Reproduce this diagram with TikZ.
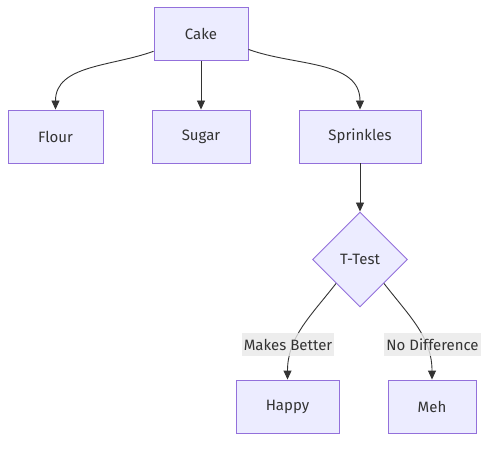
\documentclass[tikz,border=0pt]{standalone}
\usepackage{fontspec}
\setmainfont{Fira Sans}
\usepackage{tikz}
\usepackage{xcolor}
\usetikzlibrary{arrows.meta, shapes.geometric, positioning}
\definecolor{boxFill}{HTML}{ECECFF}
\definecolor{boxLine}{HTML}{9370DB}
\definecolor{edgeLine}{HTML}{333333}
\definecolor{lblFill}{HTML}{E8E8E8}
\tikzstyle{box} = [draw=boxLine, fill=boxFill, line width=0.9pt, rectangle,
   inner xsep=0pt, minimum height=53pt, text=edgeLine,
   font=\fontsize{15}{18}\selectfont]
\tikzstyle{decide} = [draw=boxLine, fill=boxFill, line width=0.9pt, diamond,
   aspect=1, inner sep=0pt, minimum width=95pt, minimum height=95pt,
   text=edgeLine, font=\fontsize{15}{18}\selectfont]
\tikzstyle{edge} = [draw=edgeLine, line width=0.9pt,
   -{Triangle[length=9pt,width=8pt]}]
\tikzstyle{edgeLabel} = [fill=lblFill, fill opacity=0.8, text opacity=1,
   text=edgeLine, inner xsep=2pt, inner ysep=0pt, minimum height=23pt,
   font=\fontsize{15}{18}\selectfont]

\begin{document}
\begin{tikzpicture}[x=1pt, y=1pt]
  \useasboundingbox (0,0) rectangle (497,-449);
  \node[box, minimum width=94pt] (cake) at (201,-34) {Cake};
  \node[box, minimum width=95pt] (flour) at (55.5,-136.5) {Flour};
  \node[box, minimum width=98pt] (sugar) at (201,-136.5) {Sugar};
  \node[box, minimum width=122pt] (sprinkles) at (360,-136.5) {Sprinkles};
  \node[decide] (ttest) at (360,-259.5) {T-Test};
  \node[box, minimum width=103pt] (happy) at (287.5,-406.5) {Happy};
  \node[box, minimum width=88pt] (meh) at (432,-406.5) {Meh};

  % edges out of the cake
  \draw[edge] (cake.200) to[out=200, in=90] (flour.north);
  \draw[edge] (cake) -- (sugar);
  \draw[edge] (cake.-18) to[out=-20, in=90] (sprinkles.north);
  \draw[edge] (sprinkles) -- (ttest);

  % test outcomes, labels go on top of the curves
  \draw[edge] (ttest.south west) to[out=-128, in=90] (happy.north);
  \draw[edge] (ttest.south east) to[out=-52, in=90] (meh.north);
  \node[edgeLabel] (better) at (288,-344.5) {Makes Better};
  \node[edgeLabel] (nodiff) at (432.5,-344.5) {No Difference};
\end{tikzpicture}
\end{document}
